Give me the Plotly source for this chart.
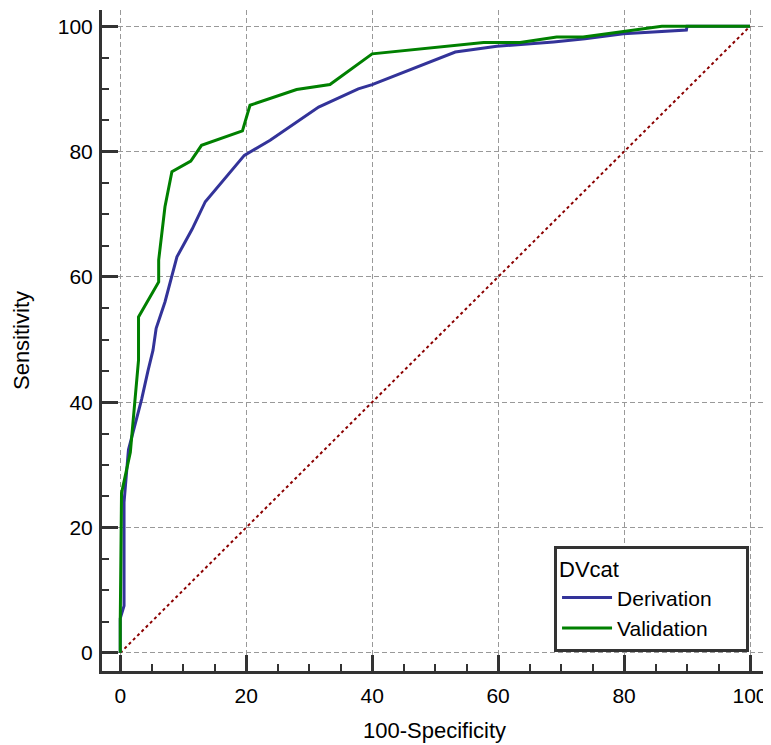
import plotly.graph_objects as go

# Derivation ROC curve (100-Specificity, Sensitivity)
deriv_x = [0, 0, 0.6, 0.6, 1.3, 3.4, 4.4, 5.2, 5.7, 7.1, 9.0, 11.4, 13.5, 19.7, 23.8,
           27.8, 31.5, 37.8, 40, 53.2, 59.8, 68.8, 73.8, 79.9, 89.9, 90, 100]
deriv_y = [0, 5.5, 7.5, 24, 32.4, 40.5, 45, 48.3, 51.8, 56, 63.2, 67.6, 72, 79.4, 81.8,
           84.5, 87.1, 90, 90.7, 95.9, 96.8, 97.5, 98, 98.8, 99.4, 100, 100]

# Validation ROC curve
valid_x = [0, 0, 0.2, 1.6, 2.9, 2.9, 6.1, 6.1, 7.1, 8.2, 11.2, 12.9, 19.4, 20.6, 28,
           33.3, 40, 57.7, 63.5, 69.3, 73.5, 79.9, 86, 100]
valid_y = [0, 5, 25.5, 32, 46.7, 53.6, 59.2, 62.7, 71.2, 76.8, 78.5, 81, 83.3, 87.4, 89.9,
           90.7, 95.6, 97.4, 97.4, 98.3, 98.3, 99.2, 100, 100]

diag = [0, 100]
ticks = [0, 20, 40, 60, 80, 100]
series_names = ["Derivation", "Validation"]

FONT = "Liberation Sans, Arial"
PAD = "\u00a0" * 5  # right padding inside the legend box

fig = go.Figure()
fig.add_trace(go.Scatter(x=diag, y=diag, mode="lines", showlegend=False,
                         line=dict(color="#8B0000", width=2, dash="dot"), hoverinfo="skip"))
fig.add_trace(go.Scatter(x=deriv_x, y=deriv_y, mode="lines", name=series_names[0] + PAD,
                         line=dict(color="#333399", width=3)))
fig.add_trace(go.Scatter(x=valid_x, y=valid_y, mode="lines", name=series_names[1] + PAD,
                         line=dict(color="#008000", width=3)))

axis_common = dict(
    tickvals=ticks, ticks="inside", ticklen=16, tickwidth=3, tickcolor="#333333",
    showline=True, linecolor="#333333", linewidth=3, mirror=False,
    showgrid=True, gridcolor="#999999", griddash="5px,3px", gridwidth=1.3,
    zeroline=False, automargin=False,
    minor=dict(dtick=5, ticks="inside", ticklen=7, tickwidth=2, tickcolor="#333333", showgrid=False),
    tickfont=dict(family=FONT, size=21, color="#000000"),
)

fig.update_xaxes(range=[-2.9, 102.7], title=dict(text="100-Specificity",
                 font=dict(family=FONT, size=22, color="#000"), standoff=17),
                 ticklabelstandoff=4, **axis_common)
fig.update_yaxes(range=[-2.9, 102.6], title=dict(text="Sensitivity",
                 font=dict(family=FONT, size=22, color="#000"), standoff=23),
                 ticklabelstandoff=2, **axis_common)

# the page body adds an 8px offset, so the figure is 8px smaller and margins shifted
fig.update_layout(
    width=763, height=737,
    margin=dict(l=94, r=4, t=2, b=74),
    plot_bgcolor="white", paper_bgcolor="white",
    font=dict(family=FONT, size=21, color="#000"),
    legend=dict(title=dict(text="DVcat", font=dict(family=FONT, size=22, color="#000")),
                x=0.973, y=0.029, xanchor="right", yanchor="bottom", bgcolor="white",
                bordercolor="#333333", borderwidth=3, itemwidth=50,
                font=dict(family=FONT, size=21, color="#000"),
                tracegroupgap=0),
)

fig.write_html("out.html")
